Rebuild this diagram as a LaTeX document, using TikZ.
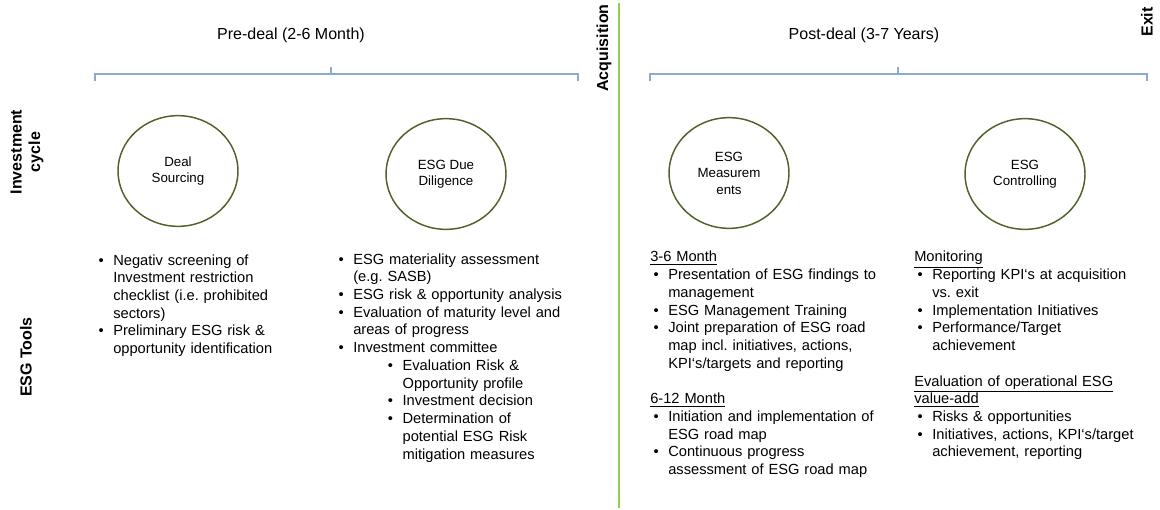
\documentclass[tikz,border=0pt]{standalone}
\usepackage{fontspec}
\setmainfont{Liberation Sans}
\usepackage{enumitem}
\usepackage{tikz}
\usetikzlibrary{shapes.geometric}

\setlength{\parindent}{0pt}
\frenchspacing
\definecolor{bracketblue}{RGB}{141,170,206}
\definecolor{ringgreen}{RGB}{79,98,40}
\definecolor{dealgreen}{RGB}{146,208,80}

\setlist[itemize]{label=\makebox[11pt][l]{\textbullet}, labelsep=0pt, labelwidth=11pt, leftmargin=12pt, topsep=0pt, partopsep=0pt, itemsep=0pt, parsep=0pt}

\tikzstyle{stage} = [ellipse, draw=ringgreen, line width=1.1pt, minimum width=90pt, minimum height=83pt, inner sep=0pt, align=center, font=\fontsize{10}{12.4}\selectfont]
\tikzstyle{rowlabel} = [rotate=90, align=center, font=\fontsize{12}{14}\selectfont\bfseries]
\tikzstyle{period} = [font=\fontsize{12}{14}\selectfont]
\tikzstyle{toollist} = [anchor=north west, inner sep=0pt, align=left, font=\fontsize{11}{13.3}\selectfont]
\tikzstyle{bracket} = [draw=bracketblue, line width=0.8pt]

\begin{document}
\begin{tikzpicture}[x=0.75pt, y=-0.75pt]
    \useasboundingbox (0,0) rectangle (1160,510);

    % phases and their brackets
    \node (predeal) [period] at (291,35) {Pre-deal (2-6 Month)};
    \node (postdeal) [period] at (864,35) {Post-deal (3-7 Years)};
    \draw [bracket] (95,81) -- (95,74) -- (578,74) -- (578,81);
    \draw [bracket] (331,74) -- (331,67);
    \draw [bracket] (650,81) -- (650,74) -- (1147,74) -- (1147,81);
    \draw [bracket] (898,74) -- (898,67);

    % acquisition divider
    \draw [dealgreen, line width=1.5pt] (619,3) -- (619,508);
    \node (acq) [rowlabel] at (604,48) {Acquisition};
    \node (exit) [rowlabel] at (1147,22) {Exit};

    \node (cycle) [rowlabel] at (27,152) {Investment\\cycle};
    \node (tools) [rowlabel] at (26,357) {ESG Tools};

    % investment cycle
    \node (sourcing) [stage] at (178,171) {Deal\\Sourcing};
    \node (diligence) [stage] at (446,174) {ESG Due\\Diligence};
    \node (measure) [stage] at (729,173) {ESG\\Measurem\\ents};
    \node (control) [stage] at (1025,174) {ESG\\Controlling};

    % ESG tools
    \node (sourcingtools) [toollist, text width=180pt] at (97,247) {%
        \begin{itemize}
        \item Negativ screening of\\Investment restriction\\checklist (i.e. prohibited\\sectors)
        \item Preliminary ESG risk \&\\opportunity identification
        \end{itemize}};
    \node (diligencetools) [toollist, text width=190pt] at (337,246) {%
        \begin{itemize}
        \item ESG materiality assessment\\(e.g. SASB)
        \item ESG risk \& opportunity analysis
        \item Evaluation of maturity level and\\areas of progress
        \item Investment committee
            \begin{itemize}[leftmargin=37pt]
            \item Evaluation Risk \&\\Opportunity profile
            \item Investment decision
            \item Determination of\\potential ESG Risk\\mitigation measures
            \end{itemize}
        \end{itemize}};
    \node (measuretools) [toollist, text width=185pt] at (650,251) {%
        \underline{3-6 Month}
        \begin{itemize}[leftmargin=13.5pt]
        \item Presentation of ESG findings to\\management
        \item ESG Management Training
        \item Joint preparation of ESG road\\map incl. initiatives, actions,\\KPI`s/targets and reporting
        \end{itemize}
        \vspace{13.3pt}
        \underline{6-12 Month}
        \begin{itemize}[leftmargin=13.5pt]
        \item Initiation and implementation of\\ESG road map
        \item Continuous progress\\assessment of ESG road map
        \end{itemize}};
    \node (controltools) [toollist, text width=180pt] at (914,251) {%
        \underline{Monitoring}
        \begin{itemize}[leftmargin=13.5pt]
        \item Reporting KPI`s at acquisition\\vs. exit
        \item Implementation Initiatives
        \item Performance/Target\\achievement
        \end{itemize}
        \vspace{13.3pt}
        \underline{Evaluation of operational ESG}\\\underline{value-add}
        \begin{itemize}[leftmargin=13.5pt]
        \item Risks \& opportunities
        \item Initiatives, actions, KPI`s/target\\achievement, reporting
        \end{itemize}};
\end{tikzpicture}
\end{document}
